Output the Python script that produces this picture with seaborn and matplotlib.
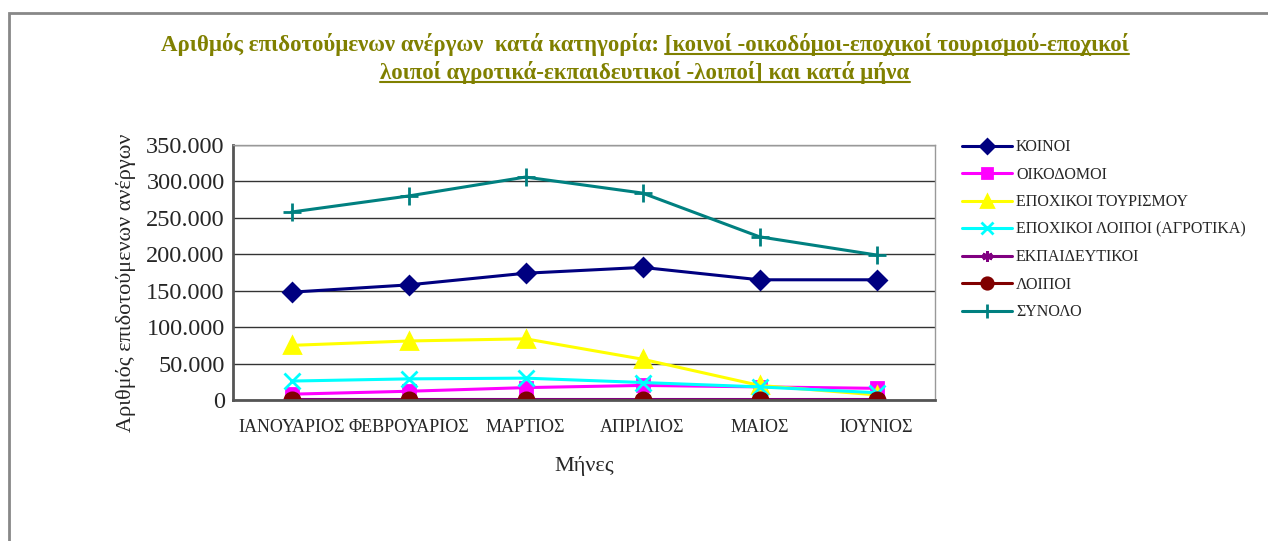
import numpy as np
import pandas as pd
import seaborn as sns
import matplotlib.pyplot as plt
from matplotlib.patches import Rectangle
from matplotlib.ticker import FuncFormatter, FixedLocator

months = ['ΙΑΝΟΥΑΡΙΟΣ', 'ΦΕΒΡΟΥΑΡΙΟΣ', 'ΜΑΡΤΙΟΣ', 'ΑΠΡΙΛΙΟΣ', 'ΜΑΙΟΣ', 'ΙΟΥΝΙΟΣ']

koinoi = [148000, 158000, 174000, 182000, 165000, 165000]
oikodomoi = [8000, 12000, 17000, 20000, 18000, 16000]
tourismou = [75000, 81000, 84000, 56000, 20000, 7000]
agrotika = [26000, 29000, 30000, 24000, 18000, 10000]
ekpaideutikoi = [1000, 1000, 1000, 1000, 1000, 1000]
loipoi = [500, 500, 500, 500, 500, 500]
synolo = [258000, 280000, 306000, 284000, 224000, 199000]

series_names = ['ΚΟΙΝΟΙ', 'ΟΙΚΟΔΟΜΟΙ', 'ΕΠΟΧΙΚΟΙ ΤΟΥΡΙΣΜΟΥ', 'ΕΠΟΧΙΚΟΙ ΛΟΙΠΟΙ (ΑΓΡΟΤΙΚΑ)',
                'ΕΚΠΑΙΔΕΥΤΙΚΟΙ', 'ΛΟΙΠΟΙ', 'ΣΥΝΟΛΟ']
series_values = [koinoi, oikodomoi, tourismou, agrotika, ekpaideutikoi, loipoi, synolo]
colors = ['#000080', '#FF00FF', '#FFFF00', '#00FFFF', '#800080', '#800000', '#008080']
markers = ['D', 's', '^', 'x', (6, 2, 0), 'o', '+']
msizes = [9, 9, 11, 11, 10, 11, 13]

sns.set_style('white')
plt.rcParams['font.family'] = ['Liberation Serif', 'DejaVu Serif']

fig = plt.figure(figsize=(12.68, 5.41), dpi=100)
ax = fig.add_axes([233 / 1268, 1 - 400 / 541, (935 - 233) / 1268, (400 - 145) / 541])

x = np.arange(len(months))
for name, vals, c, m, ms in zip(series_names, series_values, colors, markers, msizes):
    df = pd.DataFrame({'x': x, 'y': vals})
    sns.lineplot(data=df, x='x', y='y', ax=ax, color=c, marker=m, markersize=ms,
                 markeredgecolor=c, markeredgewidth=2, linewidth=2.2, label=name)

ax.set_xlim(-0.5, len(months) - 0.5)
ax.set_ylim(0, 350000)
ax.set_yticks(np.arange(0, 350001, 50000))
ax.yaxis.set_major_formatter(FuncFormatter(lambda v, p: '0' if v == 0 else f'{int(v):,}'.replace(',', '.')))
ax.set_xticks(x)
ax.set_xticklabels(months, fontsize=13)
ax.xaxis.set_minor_locator(FixedLocator(np.arange(-0.5, len(months), 1.0)))
ax.tick_params(axis='x', which='major', length=0, pad=14)
ax.tick_params(axis='x', which='minor', length=6, color='#555555', direction='inout')
ax.tick_params(axis='y', length=8, color='#555555', direction='inout', labelsize=17.5, pad=2)
ax.grid(axis='y', color='#333333', linewidth=1)
ax.grid(axis='x', visible=False)
for s in ax.spines.values():
    s.set_color('#999999')
    s.set_linewidth(1)
ax.spines['bottom'].set_color('#555555')
ax.spines['bottom'].set_linewidth(2)
ax.spines['left'].set_color('#555555')
ax.spines['left'].set_linewidth(2)

ax.set_xlabel('Μήνες', fontsize=16, labelpad=14)
ax.set_ylabel('Αριθμός επιδοτούμενων ανέργων', fontsize=16)
ax.yaxis.set_label_coords(-0.138, 0.46)

ax.legend(loc='upper left', bbox_to_anchor=(948 / 1268, 1 - 125 / 541), bbox_transform=fig.transFigure,
          frameon=False, fontsize=11.5, handlelength=3.1, labelspacing=0.72, handletextpad=0.25,
          markerscale=0.75)

# outer chart frame
fig.patches.append(Rectangle((9 / 1268, -0.1), 1.1, 1.1 - 13 / 541, transform=fig.transFigure,
                             fill=False, edgecolor='#888888', linewidth=2))

# title with underlined part
tcol = '#808000'
part1 = 'Αριθμός επιδοτούμενων ανέργων  κατά κατηγορία: '
part2 = '[κοινοί -οικοδόμοι-εποχικοί τουρισμού-εποχικοί'
line2 = 'λοιποί αγροτικά-εκπαιδευτικοί -λοιποί] και κατά μήνα'
t1 = fig.text(645 / 1268, 1 - 45 / 541, part1 + part2, ha='center', va='center',
              fontsize=16.5, fontweight='bold', color=tcol)
t2 = fig.text(645 / 1268, 1 - 72 / 541, line2, ha='center', va='center',
              fontsize=16.5, fontweight='bold', color=tcol)
r = fig.canvas.get_renderer()
tmp = fig.text(0, 0, part1, fontsize=16.5, fontweight='bold')
w1 = tmp.get_window_extent(r).width
tmp.remove()
b1 = t1.get_window_extent(r)
b2 = t2.get_window_extent(r)
inv = fig.transFigure.inverted()
for (x0, x1, yb) in [(b1.x0 + w1, b1.x1, b1.y0 + 2), (b2.x0, b2.x1, b2.y0 + 2)]:
    (fx0, fy), (fx1, _) = inv.transform([(x0, yb), (x1, yb)])
    fig.add_artist(plt.Line2D([fx0, fx1], [fy, fy], transform=fig.transFigure, color=tcol, linewidth=1.5))

fig.savefig('out.png', dpi=100)
